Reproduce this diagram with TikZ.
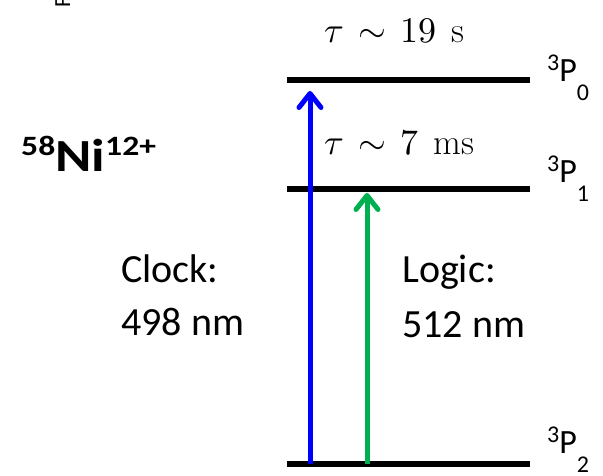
\documentclass[tikz,border=0pt]{standalone}
\usepackage{fontspec}
\usepackage{unicode-math}
\setmathfont{Latin Modern Math}
\setsansfont{Carlito}
\usetikzlibrary{arrows.meta}
\begin{document}
\begin{tikzpicture}[x=1pt,y=-1pt,
  level/.style={line width=6pt},
  trans/.style={line width=5pt,-{Straight Barb[length=14pt,width=22pt,round]}},
  lbl/.style={font=\sffamily\fontsize{40}{48}\selectfont,inner sep=0pt,anchor=base west},
  life/.style={font=\fontsize{36}{42}\selectfont,inner sep=0pt,anchor=base west},
  term/.style={font=\sffamily\fontsize{24}{28}\selectfont,inner sep=0pt,anchor=base west}]
\definecolor{clockblue}{RGB}{0,0,255}
\definecolor{logicgreen}{RGB}{0,176,80}
\useasboundingbox (0,0) rectangle (603,476);
\fill[white] (0,0) rectangle (603,476);
% cropped fragment at top left
\node[font=\sffamily\fontsize{23}{28}\selectfont,inner sep=0pt,anchor=base west,rotate=90] (frag) at (70,8) {F};
% coordinates of levels
\coordinate (p0l) at (287,80);  \coordinate (p0r) at (530,80);
\coordinate (p1l) at (287,189); \coordinate (p1r) at (530,189);
\coordinate (p2l) at (287,464); \coordinate (p2r) at (530,464);
\coordinate (cb) at (310,464); \coordinate (ct) at (310,91);
\coordinate (lb) at (367,464); \coordinate (lt) at (367,193);
% level lines
\draw[level] (p0l) -- (p0r);
\draw[level] (p1l) -- (p1r);
\draw[level] (p2l) -- (p2r);
% transitions
\draw[trans,clockblue] (cb) -- (ct);
\draw[trans,logicgreen] (lb) -- (lt);
% lifetimes
\node[life] (tau0) at (324,43) {$\tau\mkern2.5mu\sim\mkern2mu 19\mkern7.5mu\mathrm{s}$};
\node[life] (tau1) at (324,155) {$\tau\mkern2.5mu\sim\mkern2mu 7\mkern7.5mu\mathrm{ms}$};
% term labels
\node[term] (t0) at (547,82) {\raisebox{11pt}{3}{\fontsize{34}{40}\selectfont P}\raisebox{-19pt}{0}};
\node[term] (t1) at (547,183) {\raisebox{11pt}{3}{\fontsize{34}{40}\selectfont P}\raisebox{-19pt}{1}};
\node[term] (t2) at (547,453) {\raisebox{11pt}{3}{\fontsize{34}{40}\selectfont P}\raisebox{-19pt}{2}};
% ion label
\begin{scope}[shift={(21,172)},xscale=1.2]
\node[transform shape,font=\sffamily\bfseries\fontsize{28}{34}\selectfont,inner sep=0pt,anchor=base west] (ion) at (0,0)
  {\raisebox{17pt}{58}{\fontsize{46}{54}\selectfont Ni}\raisebox{17pt}{12+}};
\end{scope}
% transition labels
\node[lbl] (clk1) at (121,282) {Clock:};
\node[lbl] (clk2) at (121,335) {498 nm};
\node[lbl] (log1) at (402,283) {Logic:};
\node[lbl] (log2) at (402,337) {512 nm};
\end{tikzpicture}
\end{document}
